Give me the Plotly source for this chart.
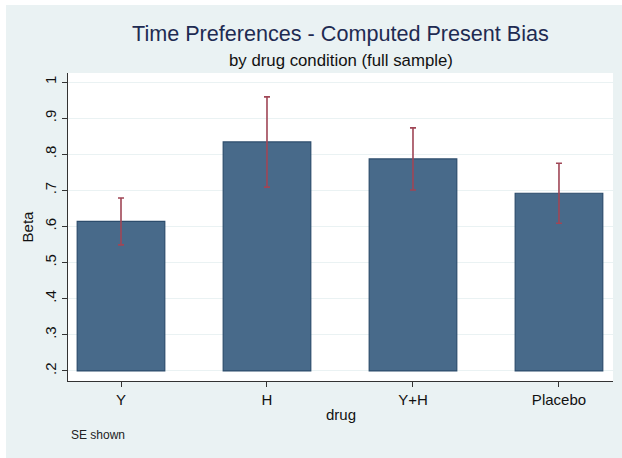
import plotly.graph_objects as go

categories = ["Y", "H", "Y+H", "Placebo"]
beta_mean = [0.614, 0.834, 0.787, 0.692]
beta_se = [0.065, 0.125, 0.086, 0.083]
bar_base = 0.2
y_ticks = [0.2, 0.3, 0.4, 0.5, 0.6, 0.7, 0.8, 0.9, 1.0]
y_tick_labels = [".2", ".3", ".4", ".5", ".6", ".7", ".8", ".9", "1"]

W, H = 622, 458
L, R, T, B = 68, 9, 73, 77
pw, ph = W - L - R, H - T - B

BG = "#EAF2F3"
FONT = "Liberation Sans, Arial, sans-serif"

fig = go.Figure()
fig.add_trace(go.Bar(
    x=list(range(len(categories))),
    y=[v - bar_base for v in beta_mean],
    base=bar_base,
    width=0.6,
    marker=dict(color="#486A8A", line=dict(color="#2C4C6C", width=1.2)),
    hoverinfo="skip",
))
fig.add_trace(go.Scatter(
    x=list(range(len(categories))),
    y=beta_mean,
    mode="markers",
    marker=dict(size=0.1, opacity=0),
    error_y=dict(type="data", array=beta_se, color="#A04656", thickness=1.6, width=3),
    hoverinfo="skip",
))

def px2paper_x(px):
    return (px - L) / pw

def px2paper_y(py):
    return 1 - (py - T) / ph

shapes = [
    dict(type="rect", xref="paper", yref="paper", layer="below",
         x0=px2paper_x(6), x1=px2paper_x(W + 2), y0=px2paper_y(H + 2), y1=px2paper_y(5),
         fillcolor=BG, line=dict(width=0)),
    dict(type="rect", xref="paper", yref="paper", layer="below",
         x0=0, x1=1, y0=0, y1=1, fillcolor="white", line=dict(width=0)),
]

annotations = [
    dict(text="Time Preferences - Computed Present Bias", xref="paper", yref="paper",
         x=0.5, y=px2paper_y(34), xanchor="center", yanchor="middle", showarrow=False,
         font=dict(family=FONT, size=21.6, color="#1E2B52")),
    dict(text="by drug condition (full sample)", xref="paper", yref="paper",
         x=0.5, y=px2paper_y(60), xanchor="center", yanchor="middle", showarrow=False,
         font=dict(family=FONT, size=16.8, color="#111111")),
    dict(text="SE shown", xref="paper", yref="paper",
         x=px2paper_x(69), y=px2paper_y(435), xanchor="left", yanchor="middle", showarrow=False,
         font=dict(family=FONT, size=12, color="#222222")),
    dict(text="drug", xref="paper", yref="paper",
         x=0.5, y=px2paper_y(414), xanchor="center", yanchor="middle", showarrow=False,
         font=dict(family=FONT, size=15, color="#111111")),
]

fig.update_layout(
    width=W, height=H,
    margin=dict(l=L, r=R, t=T, b=B, pad=0),
    paper_bgcolor="white",
    plot_bgcolor="rgba(0,0,0,0)",
    showlegend=False,
    shapes=shapes,
    annotations=annotations,
    font=dict(family=FONT, color="#111111"),
    bargap=0.4,
)
fig.update_xaxes(
    range=[-0.363, 3.37],
    tickmode="array", tickvals=list(range(len(categories))), ticktext=categories,
    ticks="outside", ticklen=5, tickcolor="#333333",
    showline=True, linecolor="#333333", linewidth=1,
    showgrid=False, zeroline=False,
    tickfont=dict(family=FONT, size=15, color="#111111"),
)
fig.update_yaxes(
    range=[0.172, 1.025],
    tickmode="array", tickvals=y_ticks, ticktext=y_tick_labels, tickangle=-90,
    ticks="outside", ticklen=5, tickcolor="#333333",
    showline=True, linecolor="#333333", linewidth=1,
    showgrid=True, gridcolor=BG, gridwidth=1, zeroline=False,
    tickfont=dict(family=FONT, size=15, color="#111111"),
    title=dict(text="Beta", font=dict(family=FONT, size=15, color="#111111"), standoff=4),
)

fig.write_html("out.html")
